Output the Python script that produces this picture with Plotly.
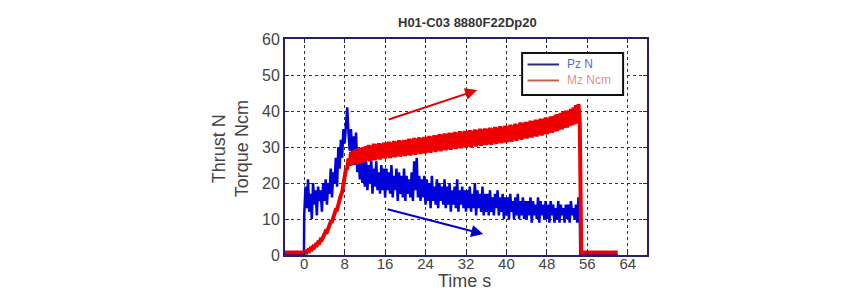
import numpy as np
import plotly.graph_objects as go

title_text = "H01-C03 8880F22Dp20"
x_ticks = [0, 8, 16, 24, 32, 40, 48, 56, 64]
y_ticks = [0, 10, 20, 30, 40, 50, 60]

# sampling of the noisy part: t = 0 .. 54.5 s, every 0.25 s
t_start, t_step = 0.0, 0.25

pz_values = [
    11, 19, 13, 21, 12, 17, 10, 20, 14, 18, 11, 19, 15, 18, 12, 20,
    15, 21, 14, 20, 17, 24, 16, 23, 20, 27, 19, 30, 24, 32, 27, 35,
    31, 38, 41, 34, 29, 35, 27, 33, 25, 34, 23, 29, 21, 27, 20, 26,
    19, 26, 18, 25, 20, 27, 17, 24, 19, 26, 18, 23, 17, 25, 18, 24,
    16, 24, 18, 23, 17, 25, 16, 22, 18, 24, 15, 23, 17, 22, 16, 24,
    15, 22, 17, 21, 16, 23, 15, 26, 18, 27, 16, 22, 15, 21, 16, 22,
    14, 21, 15, 20, 13, 22, 15, 19, 14, 21, 13, 20, 15, 19, 14, 21,
    13, 19, 14, 20, 12, 18, 14, 19, 13, 21, 12, 18, 14, 19, 13, 18,
    12, 18, 13, 19, 12, 17, 13, 20, 11, 18, 13, 17, 12, 19, 11, 17,
    12, 17, 11, 18, 12, 16, 11, 17, 13, 18, 11, 16, 12, 17, 10, 16,
    11, 16, 10, 17, 12, 15, 10, 16, 11, 17, 10, 15, 11, 16, 10, 15,
    10, 15, 11, 16, 9, 15, 11, 14, 10, 16, 9, 15, 11, 14, 10, 15,
    10, 14, 9, 15, 11, 14, 9, 13, 10, 15, 9, 14, 11, 13, 9, 14,
    10, 14, 9, 15, 11, 13, 10, 14, 9, 16, 12,
]

mz_values = [
    0.3, 0.9, 0.7, 1.3, 1.1, 1.8, 1.6, 2.3, 2.1, 2.8, 2.7, 3.5, 3.4, 4.3, 4.2, 5.1,
    5.6, 6.6, 6.4, 7.6, 7.9, 9.2, 9.3, 10.6, 11.0, 12.6, 12.6, 14.4, 14.9, 16.6, 17.5, 19.4,
    21.0, 23.8, 24.0, 26.8, 24.8, 28.6, 25.0, 29.0, 25.4, 29.4, 25.2, 29.6, 25.6, 29.8, 25.5, 30.0,
    25.9, 30.2, 26.2, 30.6, 26.0, 30.4, 26.5, 30.9, 26.3, 30.7, 26.7, 31.1, 26.5, 30.9, 26.9, 31.2,
    26.8, 31.2, 27.1, 31.5, 26.9, 31.3, 27.3, 31.7, 27.1, 31.5, 27.5, 31.9, 27.3, 31.7, 27.6, 32.0,
    27.5, 32.0, 27.8, 32.3, 27.6, 32.1, 28.0, 32.5, 27.8, 32.3, 28.2, 32.7, 28.0, 32.5, 28.3, 32.8,
    28.2, 32.8, 28.6, 33.1, 28.4, 32.9, 28.8, 33.3, 28.6, 33.2, 29.0, 33.6, 28.8, 33.4, 29.2, 33.8,
    29.1, 33.7, 29.4, 34.0, 29.2, 33.8, 29.6, 34.2, 29.4, 34.0, 29.8, 34.4, 29.6, 34.2, 29.9, 34.5,
    29.8, 34.4, 30.1, 34.7, 29.9, 34.5, 30.3, 34.9, 30.1, 34.7, 30.5, 35.1, 30.3, 34.9, 30.6, 35.2,
    30.5, 35.1, 30.8, 35.4, 30.6, 35.2, 31.0, 35.6, 30.8, 35.4, 31.2, 35.8, 31.0, 35.6, 31.3, 35.9,
    31.2, 35.8, 31.6, 36.2, 31.4, 36.0, 31.9, 36.5, 31.7, 36.3, 32.2, 36.8, 32.0, 36.6, 32.4, 37.0,
    32.3, 36.9, 32.7, 37.3, 32.6, 37.2, 33.0, 37.6, 32.9, 37.5, 33.3, 37.9, 33.2, 37.8, 33.6, 38.2,
    33.5, 38.1, 33.9, 38.5, 33.9, 38.6, 34.3, 39.0, 34.4, 39.1, 34.8, 39.5, 34.9, 39.7, 35.3, 40.1,
    35.4, 40.2, 35.8, 40.6, 36.0, 41.0, 36.3, 41.6, 36.6, 41.9, 37.0,
]

# quiet parts before start and after the drop
pre_t = [-3.8, -0.05]
pz_pre = [0.0, 0.0]
mz_pre = [0.7, 0.7]
post_t_pz = [54.6, 62.0]
pz_post = [0.0, 0.0]
post_t_mz = [54.6, 54.65, 54.7, 54.75, 54.8, 55.0, 62.0]
mz_post = [20.0, 21.0, 4.5, 3.0, 0.7, 0.7, 0.7]

# arrows: (tail_x, tail_y, head_x, head_y, colour)
arrows = [
    (16.4, 37.5, 34.2, 45.8, "#e00000"),
    (16.2, 12.8, 35.4, 5.8, "#0000cc"),
]

t_dense = t_start + t_step * np.arange(len(pz_values))

pz_t = list(pre_t) + list(t_dense) + post_t_pz
pz_y = pz_pre + pz_values + pz_post
mz_t = list(pre_t) + list(t_dense) + post_t_mz
mz_y = mz_pre + mz_values + mz_post

fig = go.Figure()
fig.add_trace(go.Scatter(x=pz_t, y=pz_y, mode="lines",
                         line=dict(color="#0000d8", width=2.5), name="Pz N"))
fig.add_trace(go.Scatter(x=mz_t, y=mz_y, mode="lines",
                         line=dict(color="#ee0000", width=4), name="Mz Ncm"))

FONT = "Liberation Sans, Arial, sans-serif"
axis_common = dict(
    showline=True, linecolor="#22226a", linewidth=2, mirror="allticks",
    ticks="inside", ticklen=4, tickcolor="#22226a",
    showgrid=True, gridcolor="#333333", griddash="dot", gridwidth=1,
    zeroline=False,
)
fig.update_layout(
    width=854, height=298,
    margin=dict(l=285, r=207, t=39, b=43),
    paper_bgcolor="white", plot_bgcolor="white",
    showlegend=False,
    xaxis=dict(range=[-3.8, 67.8], tickvals=x_ticks,
               tickfont=dict(family=FONT, size=15, color="#444444"),
               ticklabelstandoff=-6,
               **axis_common),
    yaxis=dict(range=[0, 60], tickvals=y_ticks,
               tickfont=dict(family=FONT, size=16, color="#444444"),
               **axis_common),
)

annotations = [
    dict(text="<b>" + title_text + "</b>", xref="paper", yref="paper",
         x=0.503, y=1.0, yanchor="middle", yshift=17, showarrow=False,
         font=dict(family=FONT, size=13, color="#333333")),
    dict(text="Time s", xref="paper", yref="paper", x=0.497, y=0,
         yanchor="middle", yshift=-26, showarrow=False,
         font=dict(family=FONT, size=18, color="#444444")),
    dict(text="Thrust N<br>Torque Ncm", xref="paper", yref="paper",
         x=0, xanchor="center", xshift=-55, y=0.49, yanchor="middle",
         textangle=-90, showarrow=False,
         font=dict(family=FONT, size=18, color="#444444")),
]
for tx, ty, hx, hy, col in arrows:
    annotations.append(dict(x=hx, y=hy, ax=tx, ay=ty, xref="x", yref="y",
                            axref="x", ayref="y", text="", showarrow=True,
                            arrowhead=2, arrowsize=1.2, arrowwidth=2,
                            arrowcolor=col))

# legend drawn by hand
lx0, lx1, ly0, ly1 = 0.655, 0.934, 0.741, 0.935
shapes = [dict(type="rect", xref="paper", yref="paper", x0=lx0, x1=lx1,
               y0=ly0, y1=ly1, line=dict(color="#111111", width=2),
               fillcolor="white", layer="above")]
legend_items = [("Pz N", "#2a2a86", "#5a6ad0", 0.882),
                ("Mz Ncm", "#c2604e", "#e8907c", 0.808)]
for label, lcol, tcol, yy in legend_items:
    shapes.append(dict(type="line", xref="paper", yref="paper",
                       x0=0.67, x1=0.757, y0=yy, y1=yy,
                       line=dict(color=lcol, width=2), layer="above"))
    annotations.append(dict(text=label, xref="paper", yref="paper",
                            x=0.773, y=yy, xanchor="left", yanchor="middle",
                            showarrow=False,
                            font=dict(family=FONT, size=12, color=tcol)))

fig.update_layout(annotations=annotations, shapes=shapes)
fig.write_html("out.html")
